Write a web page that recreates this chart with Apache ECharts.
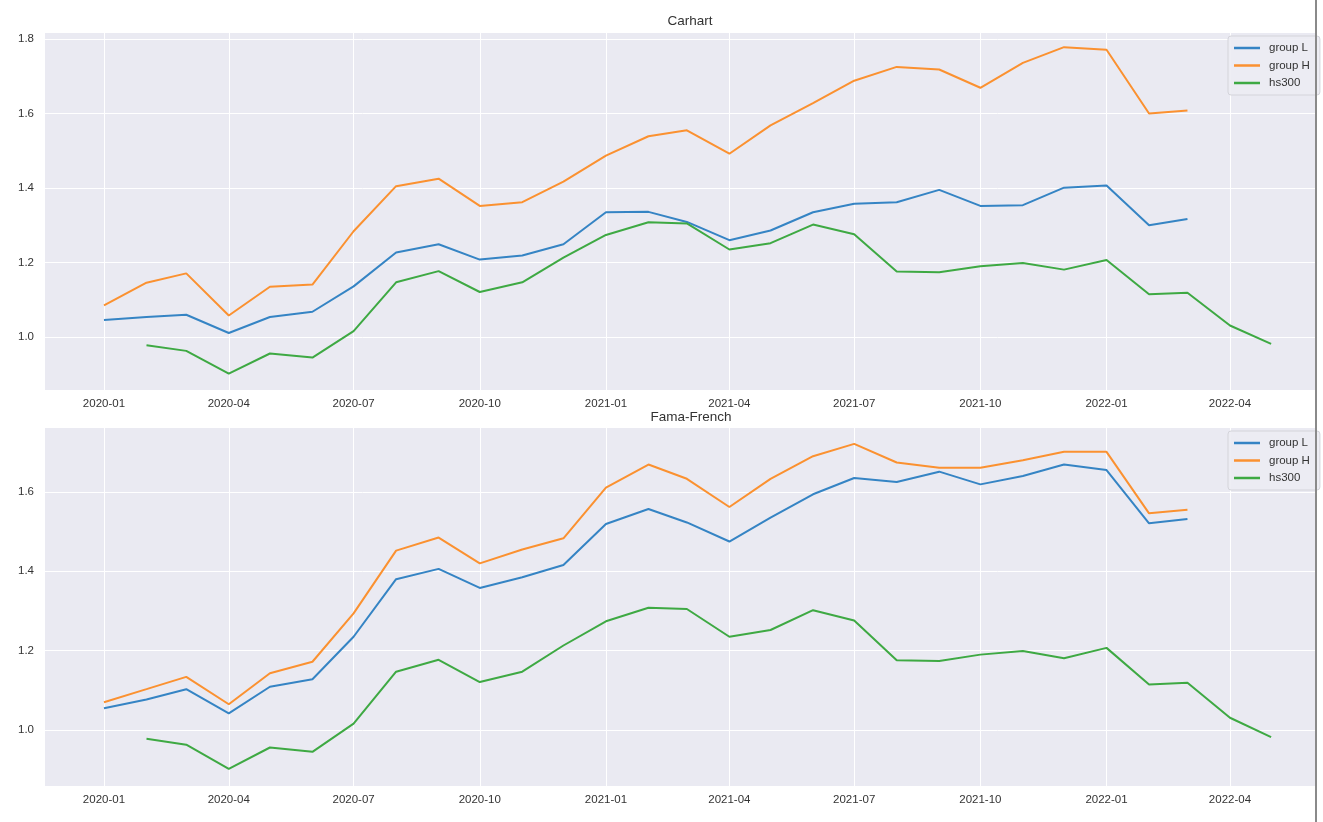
<!DOCTYPE html>
<html>
<head>
<meta charset="utf-8">
<script src="https://cdn.jsdelivr.net/npm/echarts@6/dist/echarts.min.js"></script>
<style>
html,body{margin:0;padding:0;background:#fff;}
#chart{width:1323px;height:822px;}
</style>
</head>
<body>
<div id="chart"></div>
<script>
// ---- data ----
const monthsGroups = ['2020-01','2020-02','2020-03','2020-04','2020-05','2020-06','2020-07','2020-08','2020-09','2020-10','2020-11','2020-12',
  '2021-01','2021-02','2021-03','2021-04','2021-05','2021-06','2021-07','2021-08','2021-09','2021-10','2021-11','2021-12',
  '2022-01','2022-02','2022-03'];
const monthsHs300 = ['2020-02','2020-03','2020-04','2020-05','2020-06','2020-07','2020-08','2020-09','2020-10','2020-11','2020-12',
  '2021-01','2021-02','2021-03','2021-04','2021-05','2021-06','2021-07','2021-08','2021-09','2021-10','2021-11','2021-12',
  '2022-01','2022-02','2022-03','2022-04','2022-05'];

const carhartL = [1.046,1.054,1.060,1.011,1.054,1.068,1.136,1.227,1.249,1.208,1.219,1.249,
  1.335,1.336,1.309,1.260,1.286,1.335,1.358,1.362,1.395,1.352,1.354,1.401,
  1.407,1.300,1.317];
const carhartH = [1.085,1.146,1.171,1.058,1.135,1.141,1.284,1.405,1.425,1.352,1.362,1.417,
  1.487,1.539,1.555,1.492,1.568,1.628,1.688,1.725,1.718,1.669,1.736,1.778,
  1.771,1.600,1.608];
const ffL = [1.055,1.077,1.103,1.042,1.109,1.128,1.235,1.380,1.406,1.358,1.385,1.416,
  1.519,1.557,1.523,1.475,1.535,1.594,1.635,1.625,1.651,1.619,1.640,1.669,
  1.655,1.521,1.532];
const ffH = [1.070,1.103,1.134,1.065,1.143,1.172,1.294,1.452,1.485,1.420,1.455,1.483,
  1.611,1.669,1.633,1.562,1.633,1.690,1.721,1.674,1.661,1.661,1.680,1.701,
  1.701,1.546,1.555];
const hs300 = [0.978,0.963,0.902,0.956,0.945,1.016,1.147,1.177,1.121,1.147,1.213,
  1.274,1.308,1.305,1.235,1.252,1.302,1.276,1.176,1.174,1.190,1.199,1.181,
  1.207,1.115,1.119,1.031,0.982];

const xTickLabels = ['2020-01','2020-04','2020-07','2020-10','2021-01','2021-04','2021-07','2021-10','2022-01','2022-04'];
const yTicksTop = [1.0,1.2,1.4,1.6,1.8];
const yTicksBottom = [1.0,1.2,1.4,1.6];
const seriesNames = ['group L','group H','hs300'];
const titles = ['Carhart','Fama-French'];

// ---- helpers ----
function ts(m){ const p = m.split('-'); return Date.UTC(+p[0], +p[1]-1, 1); }
function pairs(months, vals){ return months.map((m,i)=>[ts(m), vals[i]]); }

const colors = ['#3584c4','#fb9130','#3ea943'];
const fontFam = "'Liberation Sans', Arial, sans-serif";
const xMin = Date.UTC(2019,10,19);
const xMax = Date.UTC(2022,5,2);
const xTickVals = xTickLabels.map(ts);

function xAxisCfg(gi){
  return {
    type:'value', gridIndex:gi, min:xMin, max:xMax, scale:true,
    axisLine:{show:false},
    axisTick:{show:false, customValues:xTickVals},
    splitLine:{show:true, lineStyle:{color:'#ffffff', width:1}},
    axisLabel:{
      customValues:xTickVals, margin:8, color:'#333', fontSize:11.5, fontFamily:fontFam,
      formatter:function(v){ const d=new Date(v); const m=d.getUTCMonth()+1; return d.getUTCFullYear()+'-'+(m<10?'0':'')+m; }
    }
  };
}
function yAxisCfg(gi, mn, mx, ticks){
  return {
    type:'value', gridIndex:gi, min:mn, max:mx,
    axisLine:{show:false},
    axisTick:{show:false, customValues:ticks},
    splitLine:{show:true, lineStyle:{color:'#ffffff', width:1}},
    axisLabel:{customValues:ticks, margin:11, color:'#333', fontSize:11.5, fontFamily:fontFam,
      formatter:function(v){ return v.toFixed(1); }}
  };
}
function mkSeries(name, gi, data, ci){
  return {
    name:name, type:'line', xAxisIndex:gi, yAxisIndex:gi, data:data,
    symbol:'none', showSymbol:false, animation:false,
    lineStyle:{color:colors[ci], width:2}, itemStyle:{color:colors[ci]}
  };
}
function legendCfg(top){
  return {
    data:seriesNames, orient:'vertical', left:1228, top:top,
    icon:'rect', itemWidth:26, itemHeight:2.5, itemGap:3.5,
    textStyle:{color:'#333', fontSize:11.5, fontFamily:fontFam, padding:[0,0,0,4], lineHeight:14},
    backgroundColor:'rgba(236,236,243,0.9)', borderColor:'#d4d4da', borderWidth:1, borderRadius:3,
    padding:[5,10,5,6]
  };
}

const chart = echarts.init(document.getElementById('chart'), null, {renderer:'canvas'});
chart.setOption({
  backgroundColor:'#ffffff',
  animation:false,
  title:[
    {text:titles[0], left:685, top:9, textAlign:'center', textStyle:{fontSize:13.5, fontWeight:'normal', color:'#333', fontFamily:fontFam}},
    {text:titles[1], left:686, top:405, textAlign:'center', textStyle:{fontSize:13.5, fontWeight:'normal', color:'#333', fontFamily:fontFam}}
  ],
  legend:[legendCfg(36), legendCfg(431)],
  grid:[
    {left:45, top:33, width:1270, height:357, show:true, backgroundColor:'#EAEAF2', borderWidth:0},
    {left:45, top:428, width:1270, height:358, show:true, backgroundColor:'#EAEAF2', borderWidth:0}
  ],
  xAxis:[xAxisCfg(0), xAxisCfg(1)],
  yAxis:[yAxisCfg(0, 0.858, 1.816, yTicksTop), yAxisCfg(1, 0.859, 1.761, yTicksBottom)],
  series:[
    mkSeries(seriesNames[0], 0, pairs(monthsGroups, carhartL), 0),
    mkSeries(seriesNames[1], 0, pairs(monthsGroups, carhartH), 1),
    mkSeries(seriesNames[2], 0, pairs(monthsHs300, hs300), 2),
    mkSeries(seriesNames[0], 1, pairs(monthsGroups, ffL), 0),
    mkSeries(seriesNames[1], 1, pairs(monthsGroups, ffH), 1),
    mkSeries(seriesNames[2], 1, pairs(monthsHs300, hs300), 2)
  ],
  graphic:[
    {type:'rect', left:1315, top:0, shape:{width:2, height:822}, style:{fill:'#8a8a8a'}, z:100}
  ]
});
</script>
</body>
</html>
